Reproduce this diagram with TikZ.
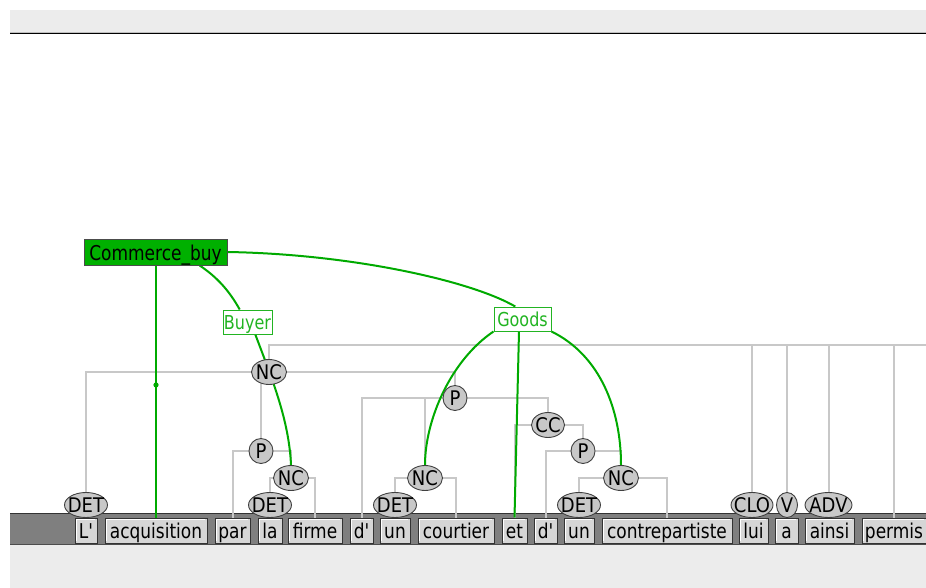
\documentclass[tikz,border=0pt]{standalone}
\usepackage{fontspec}
\usepackage{graphicx}
\setmainfont{DejaVu Sans}[Ligatures=TeXOff]
\usetikzlibrary{shapes.geometric}
\pgfdeclarelayer{bglayer}
\pgfdeclarelayer{linelayer}
\pgfsetlayers{bglayer,linelayer,main}
\definecolor{bandgray}{HTML}{ECECEC}
\definecolor{darkband}{HTML}{7F7F7F}
\definecolor{wordfill}{HTML}{D6D6D6}
\definecolor{tagfill}{HTML}{C8C8C8}
\definecolor{treegray}{HTML}{C8C8C8}
\definecolor{fegreen}{HTML}{00AA00}
\definecolor{fefill}{HTML}{00B000}
\definecolor{labgreen}{HTML}{22B422}
\newcommand{\vs}[1]{\scalebox{1}[1.2]{#1}}
\newcommand{\tg}[1]{\makebox[0pt]{\scalebox{1}[1.12]{#1}}}
\begin{document}
\begin{tikzpicture}[x=1pt,y=-1pt,
  word/.style={draw=black!80, fill=wordfill, line width=1pt, inner sep=0pt,
    minimum height=25, text height=15, text depth=0,
    font=\fontsize{17}{20}\selectfont,
    path picture={\draw[white, line width=1.4pt]
      ([xshift=1.6pt,yshift=1.6pt]path picture bounding box.south west) |-
      ([xshift=-1.6pt,yshift=-1.6pt]path picture bounding box.north east);}},
  tagnode/.style={ellipse, draw=black!75, fill=tagfill, line width=0.9pt,
    inner sep=0pt, minimum height=25, font=\fontsize{18}{21}\selectfont},
  tree/.style={draw=treegray, line width=2pt},
  fe/.style={draw=fegreen, line width=2pt},
  framebox/.style={draw=black!70, fill=fefill, line width=1pt, inner sep=0pt,
    minimum width=143, minimum height=26, text height=16, text depth=0,
    font=\fontsize{17}{20}\selectfont},
  felab/.style={draw=labgreen, fill=white, text=labgreen, line width=1pt,
    inner sep=0pt, minimum height=24, text height=14.6, text depth=0,
    font=\fontsize{16}{19}\selectfont}
]
\useasboundingbox (0,0) rectangle (926,588);

% background bands
\begin{pgfonlayer}{bglayer}
\fill[bandgray] (10,10) rectangle (926,32);
\draw[black!25, line width=1pt] (10,32.3) -- (926,32.3);
\draw[black, line width=1.6pt] (10,33.6) -- (926,33.6);
\fill[darkband] (10,513) rectangle (926,545);
\draw[black!80, line width=1pt] (10,513.5) -- (926,513.5);
\draw[black!70, line width=1pt] (10,544.5) -- (926,544.5);
\fill[bandgray] (10,545) rectangle (926,588);
\end{pgfonlayer}

% words
\node[word, minimum width=22]  (w1)  at (86,530.5)    {\vs{L'}};
\node[word, minimum width=102] (w2)  at (156,530.5)   {\vs{acquisition}};
\node[word, minimum width=35]  (w3)  at (232.5,530.5) {\vs{par}};
\node[word, minimum width=24]  (w4)  at (270,530.5)   {\vs{la}};
\node[word, minimum width=54]  (w5)  at (315,530.5)   {\vs{firme}};
\node[word, minimum width=23]  (w6)  at (361.5,530.5) {\vs{d'}};
\node[word, minimum width=30]  (w7)  at (395,530.5)   {\vs{un}};
\node[word, minimum width=76]  (w8)  at (456,530.5)   {\vs{courtier}};
\node[word, minimum width=25]  (w9)  at (514.5,530.5) {\vs{et}};
\node[word, minimum width=23]  (w10) at (545.5,530.5) {\vs{d'}};
\node[word, minimum width=30]  (w11) at (579,530.5)   {\vs{un}};
\node[word, minimum width=130] (w12) at (667,530.5)   {\vs{contrepartiste}};
\node[word, minimum width=29]  (w13) at (753.5,530.5) {\vs{lui}};
\node[word, minimum width=23]  (w14) at (786.5,530.5) {\vs{a}};
\node[word, minimum width=49]  (w15) at (829.5,530.5) {\vs{ainsi}};
\node[word, minimum width=64]  (w16) at (894,530.5)   {\vs{permis}};

% tags
\node[tagnode, minimum width=43] (t1)  at (86,505)    {\tg{DET}};
\node[tagnode, minimum width=43] (t4)  at (270,505)   {\tg{DET}};
\node[tagnode, minimum width=43] (t7)  at (395,505)   {\tg{DET}};
\node[tagnode, minimum width=43] (t11) at (579,505)   {\tg{DET}};
\node[tagnode, minimum width=42] (t13) at (752,505)   {\tg{CLO}};
\node[tagnode, minimum width=21] (t14) at (787,505)   {\tg{V}};
\node[tagnode, minimum width=47] (t15) at (828.5,505) {\tg{ADV}};
\node[tagnode, minimum width=35] (NC1) at (269,372)   {\tg{NC}};
\node[tagnode, minimum width=24] (Pa)  at (261,451)   {\tg{P}};
\node[tagnode, minimum width=35] (NCb) at (291,478)   {\tg{NC}};
\node[tagnode, minimum width=24] (Pb)  at (455,398)   {\tg{P}};
\node[tagnode, minimum width=35] (NCc) at (425,478)   {\tg{NC}};
\node[tagnode, minimum width=33] (CC)  at (548,425)   {\tg{CC}};
\node[tagnode, minimum width=24] (Pc)  at (583,451)   {\tg{P}};
\node[tagnode, minimum width=35] (NCd) at (621,478)   {\tg{NC}};
\coordinate (rootend) at (930,345);

% frame and frame elements
\node[framebox] (cb) at (155.5,252) {\vs{Commerce\_buy}};
\node[felab, minimum width=49] (buyer) at (247.5,322) {\vs{Buyer}};
\node[felab, minimum width=57] (goods) at (522.5,319) {\vs{Goods}};

\begin{pgfonlayer}{linelayer}
% syntax tree
\draw[tree] (NC1.north) |- (rootend);
\foreach \c in {t13,t14,t15,w16} \draw[tree] (\c.north) -- (\c.north |- rootend);
\draw[tree] (t1.north) |- (NC1.center) -| (Pb.north);
\draw[tree] (Pa.north) -- (Pa.north |- NC1.center);
\draw[tree] (w3.north) |- (Pa.center) -| (NCb.north);
\draw[tree] (t4.north) |- (NCb.center) -| (w5.north);
\draw[tree] (w6.north) |- (Pb.center) -| (CC.north);
\draw[tree] (NCc.north) -- (NCc.north |- Pb.center);
\draw[tree] (t7.north) |- (NCc.center) -| (w8.north);
\draw[tree] (w9.north) |- (CC.center) -| (Pc.north);
\draw[tree] (w10.north) |- (Pc.center) -| (NCd.north);
\draw[tree] (t11.north) |- (NCd.center) -| (w12.north);
% frame links
\draw[fe] (cb.south -| w2.north) -- coordinate[pos=0.474] (dot) (w2.north);
\fill[fegreen] (dot) circle[radius=2.6pt];
\draw[fe] (cb.-17) .. controls +(18,12) and +(-10,-18) .. (buyer.122);
\draw[fe] (buyer.-58) .. controls +(17,45) and +(-2,-45) .. (NCb.north);
\draw[fe] (cb.east) .. controls +(123,2) and +(-45,-26) .. (goods.120);
\draw[fe] (goods.south west) .. controls +(-43,29) and +(0,-45) .. (NCc.north);
\draw[fe] ([xshift=-3.5pt]goods.south) -- (w9.north);
\draw[fe] (goods.south east) .. controls +(49,24) and +(0,-55) .. (NCd.north);
\end{pgfonlayer}
\end{tikzpicture}
\end{document}
